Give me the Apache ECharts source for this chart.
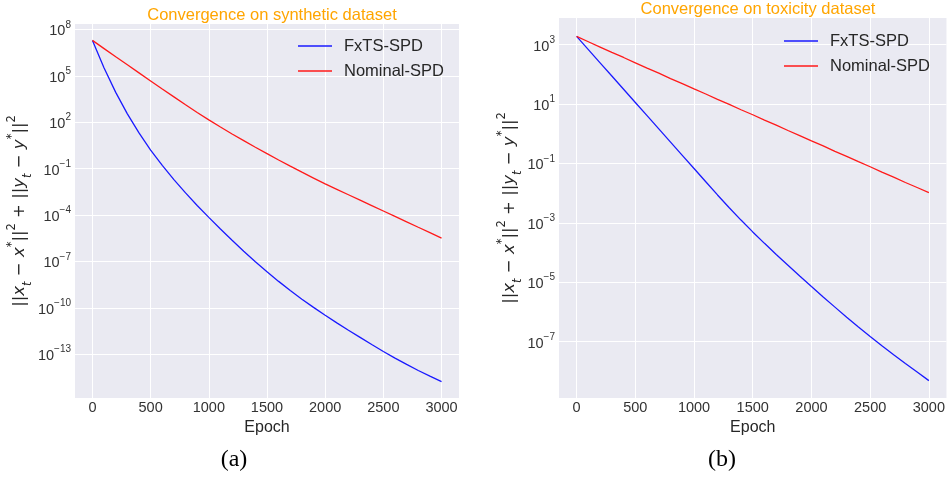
<!DOCTYPE html>
<html><head><meta charset="utf-8">
<script src="https://cdn.jsdelivr.net/npm/echarts@6/dist/echarts.min.js"></script>
<style>html,body{margin:0;padding:0;background:#fff}#c{width:948px;height:481px}</style>
</head><body><div id="c"></div>
<script>
const epochs = [0,100,200,300,400,500,600,700,800,900,1000,1100,1200,1300,1400,1500,1600,1700,1800,1900,2000,2100,2200,2300,2400,2500,2600,2700,2800,2900,3000];
const fxtsSynthetic = [1.95e7,3.24e5,8.51e3,347,20.4,1.585,0.162,0.0195,2.69e-3,4.17e-4,7.08e-5,1.24e-5,2.32e-6,4.57e-7,9.55e-8,2.14e-8,5.13e-9,1.32e-9,3.63e-10,1.07e-10,3.31e-11,1.07e-11,3.55e-12,1.23e-12,4.27e-13,1.51e-13,5.62e-14,2.19e-14,8.91e-15,3.80e-15,1.70e-15];
const nominalSynthetic = [1.95e7,5.75e6,1.70e6,5.13e5,1.55e5,4.68e4,1.41e4,4.37e3,1.35e3,427,141,49.0,17.4,6.46,2.40,0.933,0.363,0.1445,0.0589,0.02455,0.01023,4.57e-3,2.04e-3,9.12e-4,4.07e-4,1.82e-4,8.13e-5,3.63e-5,1.62e-5,7.24e-6,3.24e-6];
const fxtsToxicity = [1905,684,245,88.1,31.6,11.35,4.07,1.46,0.525,0.188,0.0676,0.0243,8.71e-3,3.24e-3,1.24e-3,4.95e-4,2.04e-4,8.61e-5,3.72e-5,1.62e-5,7.16e-6,3.20e-6,1.45e-6,6.61e-7,3.09e-7,1.48e-7,7.24e-8,3.63e-8,1.84e-8,9.44e-9,4.84e-9];
const nominalToxicity = [1905,1259,832,550,372,245,162,110,72.4,49.0,32.4,21.9,14.5,9.77,6.46,4.37,2.88,1.95,1.29,0.871,0.575,0.389,0.257,0.174,0.115,0.0776,0.0513,0.0347,0.0229,0.0155,0.0105];
const xTicks = [0,500,1000,1500,2000,2500,3000];
const yTicksSynthetic = [1e8,1e5,1e2,1e-1,1e-4,1e-7,1e-10,1e-13];
const yTicksToxicity = [1e3,1e1,1e-1,1e-3,1e-5,1e-7];
const titles = ['Convergence on synthetic dataset','Convergence on toxicity dataset'];
const seriesNames = ['FxTS-SPD','Nominal-SPD'];
const panelLabels = ['(a)','(b)'];
const xAxisTitle = 'Epoch';

const pairs = (vals) => epochs.map((e, i) => [e, vals[i]]);
const expLabel = (v) => {
  const e = Math.round(Math.log10(v));
  return '{b|10}{s|' + (e < 0 ? '\u2212' + (-e) : e) + '}';
};
const yName = '{n|||}{i|x}{sub|t}{n| \u2212 }{i|x}{sup|*}{n|||}{sup|2}{n| + ||}{i|y}{sub|t}{n| \u2212 }{i|y}{sup|*}{n|||}{sup|2}';
const nameRich = {
  n: {fontSize: 16.5, fontFamily: 'DejaVu Sans', color: '#262626', verticalAlign: 'middle'},
  i: {fontSize: 16.5, fontFamily: 'DejaVu Sans', fontStyle: 'italic', color: '#262626', verticalAlign: 'middle'},
  sub: {fontSize: 11.5, fontFamily: 'DejaVu Sans', fontStyle: 'italic', color: '#262626', verticalAlign: 'bottom'},
  sup: {fontSize: 11.5, fontFamily: 'DejaVu Sans', color: '#262626', verticalAlign: 'top'}
};
const tickRich = {
  b: {fontSize: 14.5, fontFamily: 'Liberation Sans', color: '#333', verticalAlign: 'bottom'},
  s: {fontSize: 10, fontFamily: 'Liberation Sans', color: '#333', verticalAlign: 'top'}
};
const grids = [
  {left: 75, top: 24, width: 384, height: 374, backgroundColor: '#EAEAF2', show: true, borderWidth: 0},
  {left: 559, top: 18, width: 388, height: 380, backgroundColor: '#EAEAF2', show: true, borderWidth: 0}
];
const yRanges = [[1.48e-16, 2.24e8], [1.26e-9, 7943]];
const yTicks = [yTicksSynthetic, yTicksToxicity];
const nameGaps = [30, 29];

const lineSeries = (name, xi, vals, color) => ({
  name, type: 'line', xAxisIndex: xi, yAxisIndex: xi, data: pairs(vals),
  showSymbol: false, smooth: false,
  lineStyle: {color, width: 1.3}, itemStyle: {color}
});

const option = {
  animation: false,
  backgroundColor: '#fff',
  title: titles.map((t, i) => ({
    text: t,
    left: i === 0 ? 267 : 753,
    textAlign: 'center',
    top: i === 0 ? 2 : -4,
    textStyle: {color: '#FFA500', fontSize: 16.5, fontWeight: 'normal', fontFamily: 'Liberation Sans'}
  })),
  legend: [0, 1].map(i => ({
    data: seriesNames,
    orient: 'vertical',
    left: i === 0 ? 298 : 784,
    top: i === 0 ? 37 : 32,
    padding: 0,
    icon: 'rect',
    itemWidth: 34,
    itemHeight: 1.5,
    itemGap: 7,
    textStyle: {fontSize: 16.5, fontFamily: 'Liberation Sans', color: '#262626', lineHeight: 18, padding: [0, 0, 0, 7]}
  })),
  grid: grids,
  xAxis: [0, 1].map(i => ({
    type: 'value', gridIndex: i, min: -150, max: 3150,
    name: xAxisTitle, nameLocation: 'middle', nameGap: 15,
    nameTextStyle: {fontSize: 16, fontFamily: 'Liberation Sans', color: '#262626'},
    axisLine: {show: false}, axisTick: {show: false, customValues: xTicks},
    axisLabel: {customValues: xTicks, margin: 2, fontSize: 14.5, fontFamily: 'Liberation Sans', color: '#333', formatter: (v) => String(v)},
    splitLine: {show: true, lineStyle: {color: '#fff', width: 1}}
  })),
  yAxis: [0, 1].map(i => ({
    type: 'log', logBase: 10, gridIndex: i, min: yRanges[i][0], max: yRanges[i][1],
    name: yName, nameLocation: 'middle', nameGap: nameGaps[i], nameRotate: 90,
    nameTextStyle: {rich: nameRich, lineHeight: 28},
    axisLine: {show: false}, axisTick: {show: false, customValues: yTicks[i]},
    axisLabel: {customValues: yTicks[i], margin: 4, formatter: expLabel, rich: tickRich, lineHeight: 19},
    splitLine: {show: true, lineStyle: {color: '#fff', width: 1}},
    minorSplitLine: {show: false}
  })),
  series: [
    lineSeries(seriesNames[0], 0, fxtsSynthetic, '#1a1aff'),
    lineSeries(seriesNames[1], 0, nominalSynthetic, '#ff1a1a'),
    lineSeries(seriesNames[0], 1, fxtsToxicity, '#1a1aff'),
    lineSeries(seriesNames[1], 1, nominalToxicity, '#ff1a1a')
  ],
  graphic: panelLabels.map((t, i) => ({
    type: 'text', x: i === 0 ? 234 : 722, y: 460,
    style: {text: t, align: 'center', verticalAlign: 'middle', fontSize: 24, fontFamily: 'Liberation Serif', fill: '#000'}
  }))
};
const chart = echarts.init(document.getElementById('c'), null, {renderer: 'canvas'});
chart.setOption(option);
</script></body></html>
